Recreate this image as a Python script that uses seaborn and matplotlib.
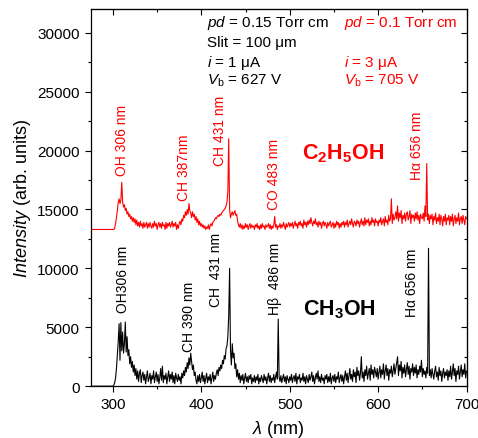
import numpy as np
import matplotlib
matplotlib.use('Agg')
import matplotlib.pyplot as plt
import seaborn as sns
from matplotlib.ticker import MultipleLocator

sns.set_style('ticks')
plt.rcParams['font.family'] = ['Liberation Sans', 'DejaVu Sans']
plt.rcParams['mathtext.fontset'] = 'custom'
plt.rcParams['mathtext.rm'] = 'Liberation Sans'
plt.rcParams['mathtext.it'] = 'Liberation Sans:italic'
plt.rcParams['mathtext.bf'] = 'Liberation Sans:bold'
for key in ['text.color', 'axes.labelcolor', 'xtick.color', 'ytick.color', 'axes.edgecolor']:
    plt.rcParams[key] = 'black'

# wavelength grid (nm), 1 nm steps
wavelength = np.arange(275, 701)

# CH3OH spectrum (black), 275-300 flat then 301-700
ch3oh = [0] * 26 + [
    100, 300, 700, 1500, 2600, 3800, 5300, 2200, 5400, 3000, 4600, 2800, 3600, 5450, 2900, 4200, 2600, 3100, 1900, 2500,
    1600, 2100, 1200, 1800, 900, 1500, 600, 1300, 400, 1100, 1400, 300, 900, 1200, 500, 1000, 200, 800, 1300, 400,
    700, 1100, 200, 900, 600, 1300, 300, 800, 1200, 400, 1000, 200, 700, 1500, 500, 1700, 300, 900, 600, 1100,
    200, 800, 1300, 400, 1000, 600, 1200, 300, 900, 200, 1100, 700, 400, 1000, 500, 800, 200, 1100, 700, 1300,
    900, 1600, 1200, 2000, 1500, 2400, 1800, 2800, 2100, 1400, 1800, 900, 1200, 500, 200, 900, 400, 1000, 300, 700,
    1200, 400, 900, 200, 700, 1100, 300, 800, 500, 1000, 200, 700, 1200, 400, 900, 600, 1100, 1400, 900, 1600,
    1300, 1800, 1500, 2200, 1900, 2600, 2300, 3200, 3400, 4200, 6000, 10000, 3000, 1800, 3600, 2400, 2800, 1500, 1900, 800,
    1400, 600, 1100, 300, 900, 500, 1000, 200, 700, 1100, 400, 800, 300, 900, 600, 1000, 200, 700, 400, 900,
    300, 800, 500, 1000, 200, 700, 400, 900, 600, 300, 1000, 500, 800, 200, 700, 1100, 400, 900, 300, 700,
    500, 1000, 300, 800, 1200, 600, 5700, 800, 400, 900, 300, 700, 1000, 400, 800, 200, 900, 600, 300, 800,
    500, 1000, 300, 700, 900, 400, 1100, 200, 800, 600, 1000, 300, 700, 500, 1100, 400, 800, 200, 900, 600,
    300, 1000, 500, 800, 1200, 400, 900, 200, 700, 1100, 600, 1300, 400, 800, 300, 1000, 500, 700, 200, 900,
    600, 1000, 300, 800, 400, 1100, 200, 700, 900, 400, 1000, 300, 800, 600, 1200, 300, 700, 1000, 400, 900,
    200, 800, 1300, 500, 1100, 300, 900, 1500, 600, 1000, 400, 1400, 800, 1200, 300, 1600, 900, 1300, 500, 1100,
    2500, 700, 1200, 400, 1400, 900, 1700, 600, 1100, 1500, 500, 1800, 1000, 1400, 700, 1600, 1200, 800, 1500, 600,
    1200, 1700, 700, 1400, 1000, 1900, 600, 1300, 1800, 900, 1500, 500, 1400, 1100, 1700, 800, 1300, 1900, 1000, 1500,
    2000, 2500, 900, 1800, 1300, 2100, 700, 1600, 1100, 1800, 800, 1400, 2000, 1000, 1700, 600, 1500, 1200, 1900, 900,
    1600, 1100, 1800, 700, 1400, 1000, 1700, 1200, 2200, 800, 1500, 1000, 1300, 700, 1600, 1100, 11700, 900, 1400, 700,
    1500, 1000, 600, 1300, 1700, 800, 1200, 500, 1600, 900, 1300, 400, 1100, 1500, 700, 1200, 900, 1400, 500, 1300,
    800, 1700, 600, 1200, 1900, 900, 1500, 400, 1300, 1000, 1700, 600, 1200, 1800, 800, 1400, 1000, 1900, 700, 1300,
]

# C2H5OH spectrum (red), 275-300 flat then 301-700
c2h5oh = [13300] * 26 + [
    13300, 13400, 13800, 14300, 14900, 15600, 15900, 15500, 15800, 17300, 15600, 15200, 15400, 14900, 15100, 14600, 14800, 14400, 14600, 14200,
    14400, 14000, 14300, 13900, 14200, 13700, 14100, 13600, 13900, 13500, 14000, 13600, 13800, 13400, 13900, 13500, 13700, 13900, 13400, 13800,
    13500, 13900, 13600, 13400, 13800, 13500, 14000, 13600, 13800, 13300, 13700, 13900, 13500, 13800, 13400, 13900, 13600, 13700, 13300, 13900,
    13400, 13800, 13600, 13900, 13500, 13700, 14000, 13500, 13800, 13600, 13900, 13300, 13700, 13400, 13800, 14000, 13700, 14200, 14000, 14500,
    14300, 14800, 14500, 15000, 14600, 15500, 14900, 14700, 14300, 14800, 14400, 14600, 14100, 14400, 13900, 14200, 13700, 14000, 13600, 13800,
    13500, 13700, 13400, 13600, 13300, 13500, 13400, 13700, 13300, 13600, 13800, 13600, 13900, 14000, 14100, 14300, 14200, 14400, 14500, 14400,
    14600, 14500, 14700, 14800, 14900, 15000, 15100, 15300, 15600, 16500, 21000, 15000, 14300, 14600, 14800, 14500, 14700, 14900, 14500, 14600,
    14000, 13700, 13500, 13800, 13400, 13700, 13300, 13600, 13400, 13800, 13500, 13700, 13300, 13600, 13800, 13400, 13700, 13500, 13600, 13300,
    13700, 13500, 13800, 13400, 13600, 13300, 13700, 13400, 13800, 13500, 13600, 13300, 13700, 13500, 13600, 13800, 13400, 13700, 13300, 13600,
    13400, 13700, 14400, 13500, 13700, 13300, 13600, 13500, 13800, 13400, 13700, 13500, 13900, 13600, 13300, 13800, 13500, 13700, 13900, 13500,
    13800, 13600, 13900, 13400, 13700, 14000, 13600, 13800, 13400, 13900, 13700, 14000, 13600, 13800, 13400, 14100, 13700, 13900, 13500, 14000,
    13700, 14100, 13800, 14300, 13900, 13600, 14000, 13800, 14200, 13700, 13900, 13500, 14000, 13700, 13900, 13400, 13800, 14000, 13600, 13900,
    13700, 13400, 13900, 13600, 13800, 14000, 13500, 13700, 13900, 13400, 13800, 13500, 14000, 13700, 13900, 13400, 13800, 13500, 13900, 13700,
    14000, 13500, 13900, 13700, 14100, 13500, 13800, 14000, 13700, 14200, 13800, 13500, 14000, 13900, 13600, 14100, 13800, 14000, 13500, 13900,
    14200, 13700, 14000, 13600, 14300, 13700, 14100, 13900, 14200, 13600, 14000, 13700, 14300, 13900, 14100, 13600, 14200, 13900, 14000, 13600,
    14100, 13900, 14300, 13700, 14000, 14200, 13600, 14400, 13900, 14100, 13700, 14500, 14000, 14200, 15900, 13800, 14600, 14100, 14300, 14800,
    14200, 15300, 14000, 14700, 14300, 14900, 13800, 14500, 14200, 14700, 14000, 14600, 14800, 14100, 14400, 14900, 13800, 14600, 14300, 14500,
    14000, 14700, 14200, 14800, 14100, 14500, 13800, 14600, 14300, 14200, 14700, 14000, 15300, 14400, 18900, 14100, 14600, 13800, 14500, 14200,
    14600, 13700, 14400, 14100, 14700, 13800, 14300, 14000, 14600, 13700, 14500, 14200, 13600, 14400, 14000, 14600, 13700, 14300, 14100, 14500,
    13700, 14400, 14000, 14600, 13600, 14200, 14500, 13800, 14300, 14000, 14700, 13700, 14200, 14400, 13800, 14500, 14100, 13700, 14400, 14200,
]

# peak labels: text, x centre and y of label bottom (data units)
red_labels = ['OH 306 nm', 'CH 387nm', 'CH 431 nm', 'CO 483 nm', 'Hα 656 nm']
red_label_x = [309.8, 380, 421.5, 481.7, 643.9]
red_label_y = [17880, 15840, 18810, 15000, 17540]
black_labels = ['OH306 nm', 'CH 390 nm', 'CH  431 nm', 'Hβ  486 nm', 'Hα 656 nm']
black_label_x = [311.4, 386.6, 417, 483.6, 638]
black_label_y = [6290, 3010, 6820, 6120, 5970]

fig = plt.figure(figsize=(4.78, 4.39), dpi=100)
ax = fig.add_axes([0.19, 0.118, 0.786, 0.859])

sns.lineplot(x=wavelength, y=c2h5oh, color='#ff0000', linewidth=0.8, ax=ax)
sns.lineplot(x=wavelength, y=ch3oh, color='black', linewidth=0.8, ax=ax)

ax.set_xlim(275, 700)
ax.set_ylim(0, 32000)
ax.xaxis.set_major_locator(MultipleLocator(100))
ax.xaxis.set_minor_locator(MultipleLocator(50))
ax.yaxis.set_major_locator(MultipleLocator(5000))
ax.yaxis.set_minor_locator(MultipleLocator(2500))
ax.tick_params(which='major', direction='out', length=4.5, width=0.8, labelsize=11)
ax.tick_params(which='minor', direction='out', length=2.5, width=0.8)
for sp in ax.spines.values():
    sp.set_linewidth(0.9)

# inward ticks on top and right
top = ax.secondary_xaxis('top')
top.xaxis.set_major_locator(MultipleLocator(100))
top.xaxis.set_minor_locator(MultipleLocator(50))
top.tick_params(which='major', direction='in', length=4.5, width=0.8, labeltop=False)
top.tick_params(which='minor', direction='in', length=2.5, width=0.8)
right = ax.secondary_yaxis('right')
right.yaxis.set_major_locator(MultipleLocator(5000))
right.yaxis.set_minor_locator(MultipleLocator(2500))
right.tick_params(which='major', direction='in', length=4.5, width=0.8, labelright=False)
right.tick_params(which='minor', direction='in', length=2.5, width=0.8)

ax.set_xlabel(r'$\lambda$ (nm)', fontsize=13, labelpad=5)
ax.set_ylabel(r'$Intensity$ (arb. units)', fontsize=13, labelpad=3)

# discharge conditions
ax.text(406.9, 30900, r'$pd$ = 0.15 Torr cm', fontsize=11, va='center')
ax.text(406.9, 29210, 'Slit = 100 μm', fontsize=11, va='center')
ax.text(406.9, 27520, r'$i$ = 1 μA', fontsize=11, va='center')
ax.text(406.9, 26000, r'$V_\mathrm{b}$ = 627 V', fontsize=11, va='center')
ax.text(561, 30900, r'$pd$ = 0.1 Torr cm', fontsize=11, va='center', color='#ff0000')
ax.text(561, 27520, r'$i$ = 3 μA', fontsize=11, va='center', color='#ff0000')
ax.text(561, 26000, r'$V_\mathrm{b}$ = 705 V', fontsize=11, va='center', color='#ff0000')

for t, x, y in zip(red_labels, red_label_x, red_label_y):
    ax.text(x, y, t, rotation=90, ha='center', va='bottom', fontsize=10, color='#ff0000')
for t, x, y in zip(black_labels, black_label_x, black_label_y):
    ax.text(x, y, t, rotation=90, ha='center', va='bottom', fontsize=10, color='black')

ax.text(513.8, 19820, r'$\mathbf{C_2H_5OH}$', fontsize=15.5, va='center', color='#ff0000')
ax.text(515, 6540, r'$\mathbf{CH_3OH}$', fontsize=15.5, va='center', color='black')

fig.savefig('out.png', dpi=100)
